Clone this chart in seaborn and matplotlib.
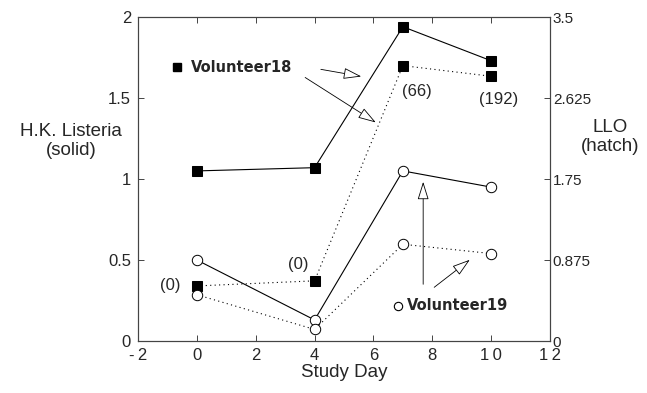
import numpy as np
import pandas as pd
import matplotlib
matplotlib.use("Agg")
import matplotlib.pyplot as plt
import seaborn as sns

days = [0, 4, 7, 10]
# H.K. Listeria (solid lines, left axis)
v18_listeria = [1.05, 1.07, 1.94, 1.73]
v19_listeria = [0.50, 0.13, 1.05, 0.95]
# LLO (dotted lines, right axis)
v18_llo = [0.595, 0.65, 2.975, 2.86]
v19_llo = [0.50, 0.125, 1.045, 0.945]
llo_labels = ["(0)", "(0)", "(66)", "(192)"]

sns.set_style("ticks")
plt.rcParams['font.family'] = ['Liberation Sans', 'DejaVu Sans']

fig = plt.figure(figsize=(6.47, 3.93), dpi=100)
ax = fig.add_axes([0.2133, 0.1323, 0.6368, 0.8244])
ax2 = ax.twinx()

solid = pd.DataFrame({"day": days, "v18": v18_listeria, "v19": v19_listeria})
hatch = pd.DataFrame({"day": days, "v18": v18_llo, "v19": v19_llo})

sns.lineplot(data=solid, x="day", y="v18", ax=ax, color="black", linewidth=0.8,
             marker="s", markersize=6.5, markeredgecolor="black")
sns.lineplot(data=solid, x="day", y="v19", ax=ax, color="black", linewidth=0.8,
             marker="o", markersize=7.5, markerfacecolor="white",
             markeredgecolor="black", markeredgewidth=0.7)
sns.lineplot(data=hatch, x="day", y="v18", ax=ax2, color="black", linewidth=0.8,
             linestyle=(0, (1, 3)), marker="s", markersize=6.5, markeredgecolor="black")
sns.lineplot(data=hatch, x="day", y="v19", ax=ax2, color="black", linewidth=0.8,
             linestyle=(0, (1, 3)), marker="o", markersize=7.5, markerfacecolor="white",
             markeredgecolor="black", markeredgewidth=0.7)

ax.set_xlim(-2, 12)
ax.set_ylim(0, 2)
ax2.set_ylim(0, 3.5)
ax.set_xticks(range(-2, 13, 2))
ax.set_xticklabels(["-\u20092", "0", "2", "4", "6", "8", "1\u20090", "1\u20092"])
ax.set_yticks([0, 0.5, 1, 1.5, 2])
ax.set_yticklabels(["0", "0.5", "1", "1.5", "2"])
ax2.set_yticks([0, 0.875, 1.75, 2.625, 3.5])
ax2.set_yticklabels(["0", "0.875", "1.75", "2.625", "3.5"])

ax.tick_params(axis="both", direction="in", length=4, width=0.6, labelsize=12,
               top=True, pad=5)
ax.tick_params(axis="y", right=False)
ax2.tick_params(axis="y", direction="in", length=4, width=0.6, labelsize=11, pad=2)
for a in (ax, ax2):
    for s in a.spines.values():
        s.set_linewidth(0.8)
        s.set_color("#444444")

ax.set_xlabel("Study Day", fontsize=13.5, labelpad=1)
ax.set_ylabel("")
ax2.set_ylabel("")
ax.text(-0.163, 0.617, "H.K. Listeria\n(solid)", transform=ax.transAxes,
        ha="center", va="center", fontsize=13.5, linespacing=1.15)
ax.text(1.146, 0.63, "LLO\n(hatch)", transform=ax.transAxes,
        ha="center", va="center", fontsize=13.5, linespacing=1.15)

# value labels for LLO
lab_pos = [(-0.92, 0.34), (3.44, 0.47), (7.47, 1.54), (10.24, 1.49)]
for lab, (lx, ly) in zip(llo_labels, lab_pos):
    ax.text(lx, ly, lab, ha="center", va="center", fontsize=12)

# legend-like annotations
ax.plot([-0.66], [1.69], marker="s", color="black", markersize=5.5)
ax.text(-0.2, 1.69, "Volunteer18", fontsize=10.5, fontweight="bold",
        family=["DejaVu Sans"], ha="left", va="center")
arrow = dict(arrowstyle="-|>,head_length=0.8,head_width=0.25", color="black",
             lw=0.6, fc="white", mutation_scale=14)
ax.annotate("", xy=(5.68, 1.63), xytext=(4.12, 1.68), arrowprops=arrow)
ax.annotate("", xy=(6.16, 1.34), xytext=(3.6, 1.636), arrowprops=arrow)

ax.plot([6.84], [0.218], marker="o", markerfacecolor="white",
        markeredgecolor="black", markersize=6, markeredgewidth=0.8)
ax.text(7.15, 0.218, "Volunteer19", fontsize=10.5, fontweight="bold",
        family=["DejaVu Sans"], ha="left", va="center")
ax.annotate("", xy=(7.69, 1.0), xytext=(7.69, 0.333), arrowprops=arrow)
ax.annotate("", xy=(9.35, 0.512), xytext=(7.99, 0.321), arrowprops=arrow)

fig.savefig("out.png", dpi=100)
